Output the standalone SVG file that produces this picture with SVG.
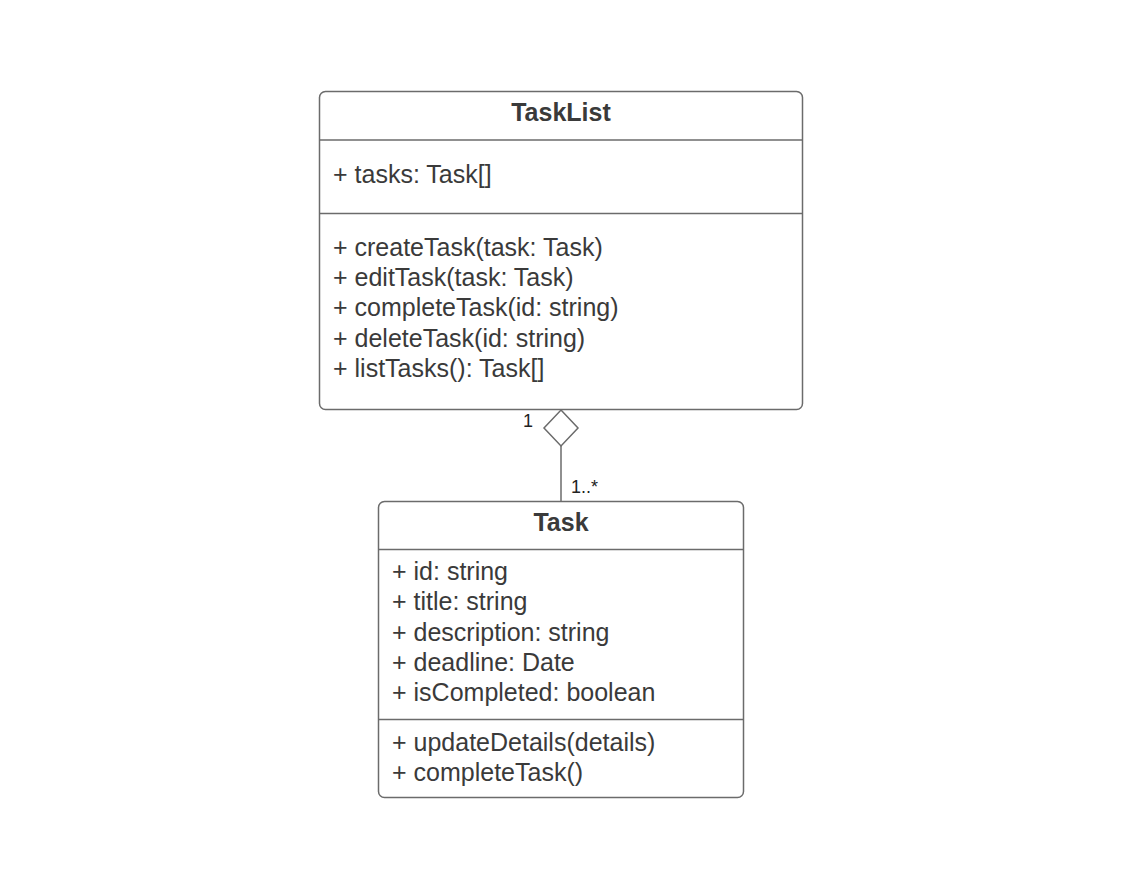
<svg xmlns="http://www.w3.org/2000/svg" width="1137" height="889" viewBox="0 0 1137 889">
<style>
.box{fill:#fff;stroke:#6b6b6b;stroke-width:1.5}
.div{stroke:#6b6b6b;stroke-width:1.5}
.t{font-family:"Liberation Sans",Arial,sans-serif;font-size:25px;fill:#3a3a3a}
.h{font-family:"Liberation Sans",Arial,sans-serif;font-size:25px;font-weight:bold;fill:#3a3a3a;text-anchor:middle}
.m{font-family:"Liberation Sans",Arial,sans-serif;font-size:18px;fill:#222}
.c{stroke:#6b6b6b;stroke-width:1.5;fill:none}
</style>
<rect width="1137" height="889" fill="#fff"/>
<g id="TaskList">
<rect class="box" x="319.5" y="91.5" width="483" height="318" rx="6"/>
<line class="div" x1="319.5" y1="140" x2="802.5" y2="140"/>
<line class="div" x1="319.5" y1="213.5" x2="802.5" y2="213.5"/>
<text class="h" x="561" y="121">TaskList</text>
<text class="t" x="333" y="183">+ tasks: Task[]</text>
<text class="t" x="333" y="256">+ createTask(task: Task)</text>
<text class="t" x="333" y="286">+ editTask(task: Task)</text>
<text class="t" x="333" y="316">+ completeTask(id: string)</text>
<text class="t" x="333" y="347">+ deleteTask(id: string)</text>
<text class="t" x="333" y="377">+ listTasks(): Task[]</text>
</g>
<g id="Task">
<rect class="box" x="378.5" y="501.5" width="365" height="296" rx="6"/>
<line class="div" x1="378.5" y1="549.5" x2="743.5" y2="549.5"/>
<line class="div" x1="378.5" y1="719.5" x2="743.5" y2="719.5"/>
<text class="h" x="561" y="531">Task</text>
<text class="t" x="392" y="580">+ id: string</text>
<text class="t" x="392" y="610">+ title: string</text>
<text class="t" x="392" y="641">+ description: string</text>
<text class="t" x="392" y="671">+ deadline: Date</text>
<text class="t" x="392" y="701">+ isCompleted: boolean</text>
<text class="t" x="392" y="751">+ updateDetails(details)</text>
<text class="t" x="392" y="781">+ completeTask()</text>
</g>
<g id="connectors">
<polygon class="c" fill="#fff" points="561,410 578,428 561,446 544,428"/>
<line class="c" x1="561" y1="446" x2="561" y2="501"/>
<text class="m" x="523" y="427">1</text>
<text class="m" x="571" y="493">1..*</text>
</g>
</svg>
